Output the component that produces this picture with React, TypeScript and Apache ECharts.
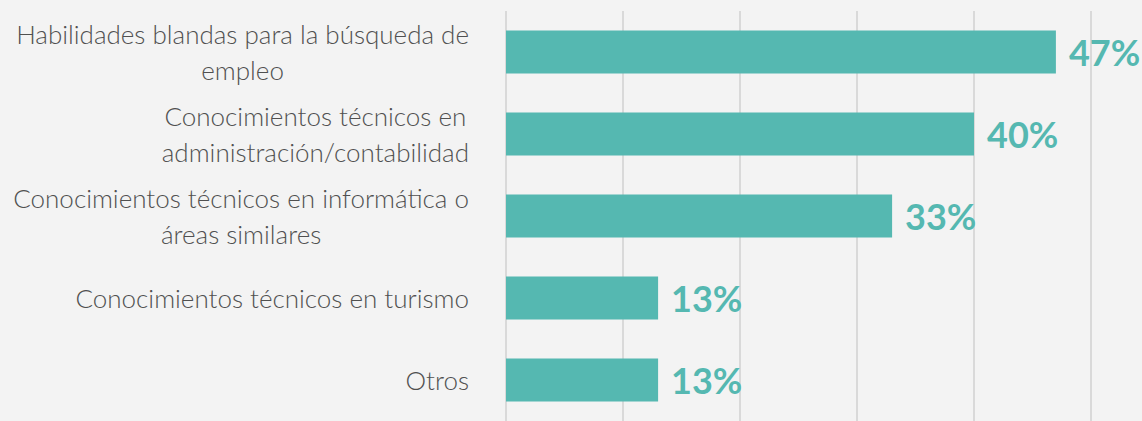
import React, { useEffect, useRef } from "react";
import * as echarts from "echarts";

const categories: string[] = [
  "Habilidades blandas para la búsqueda de\nempleo",
  "Conocimientos técnicos en\nadministración/contabilidad",
  "Conocimientos técnicos en informática o\náreas similares",
  "Conocimientos técnicos en turismo",
  "Otros",
];
const values: number[] = [47, 40, 33, 13, 13];
const xTicks: number[] = [0, 10, 20, 30, 40, 50];

const TEAL = "#55b8b1";

export default function App() {
  const ref = useRef<HTMLDivElement>(null);
  useEffect(() => {
    document.body.style.margin = "0";
    if (!ref.current) return;
    const chart = echarts.init(ref.current, null, { renderer: "svg" });
    chart.setOption({
      animation: false,
      backgroundColor: "#f3f3f3",
      grid: { left: 506, top: 11, width: 585, height: 415, containLabel: false },
      xAxis: {
        type: "value",
        min: xTicks[0],
        max: xTicks[xTicks.length - 1],
        interval: 10,
        axisLabel: { show: false },
        axisLine: { show: false },
        axisTick: { show: false },
        splitLine: { show: true, lineStyle: { color: "#d9d9d9", width: 2 } },
      },
      yAxis: {
        type: "category",
        inverse: true,
        data: categories,
        axisLine: { show: false },
        axisTick: { show: false },
        axisLabel: {
          margin: 37,
          formatter: (v: string) =>
            v
              .split("\n")
              .map((l) => `{c|${l}}`)
              .join("\n"),
          rich: {
            c: {
              align: "center",
              fontFamily: "Lato",
              fontWeight: 300,
              fontSize: 26,
              color: "#505050",
              lineHeight: 36,
            },
          },
        },
      },
      series: [
        {
          type: "bar",
          data: values,
          barWidth: 43,
          itemStyle: { color: TEAL },
          label: {
            show: true,
            position: "right",
            distance: 13,
            formatter: "{c}%",
            color: TEAL,
            fontFamily: "Lato",
            fontWeight: "bold",
            fontSize: 36,
          },
        },
      ],
    });
    return () => chart.dispose();
  }, []);
  return <div ref={ref} style={{ width: 1142, height: 421 }} />;
}
